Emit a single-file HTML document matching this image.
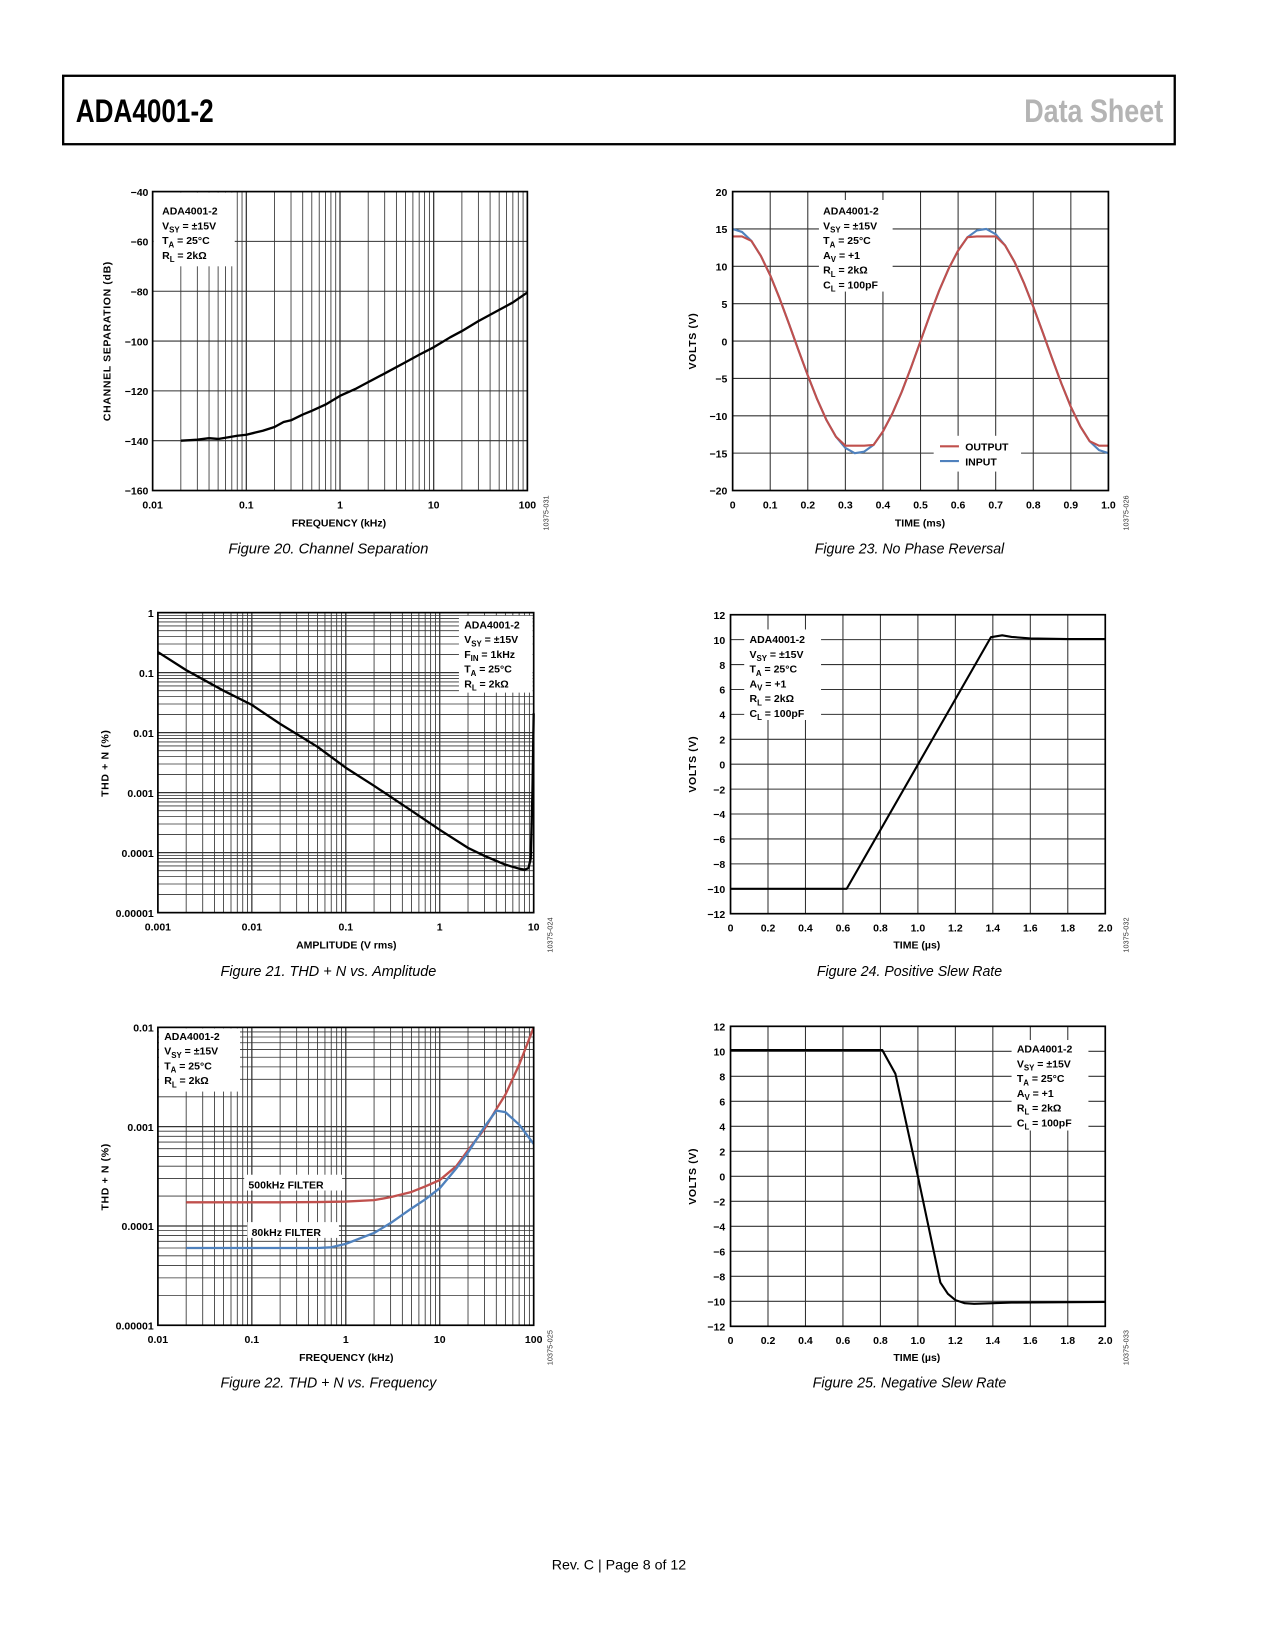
<!DOCTYPE html>
<html><head><meta charset="utf-8"><style>
html,body{margin:0;padding:0;background:#fff}
svg{display:block}
text{font-family:"Liberation Sans",sans-serif}
</style></head><body>
<svg id="page" xmlns="http://www.w3.org/2000/svg" width="1275" height="1650" viewBox="0 0 1211.25 1567.5" preserveAspectRatio="none">
<rect x="60" y="72" width="1056" height="65" fill="#fff" stroke="#000" stroke-width="2.2"/>
<text x="72" y="116" font-size="31" font-weight="bold" textLength="131" lengthAdjust="spacingAndGlyphs">ADA4001-2</text>
<text x="973" y="116" font-size="31" font-weight="bold" fill="#b4b4b4" textLength="132" lengthAdjust="spacingAndGlyphs">Data Sheet</text>
<text x="588" y="1491" font-size="13.5" text-anchor="middle">Rev. C | Page 8 of 12</text>
</svg>
<script>
// ---- Figure 20 data ----
const fig20Freq = [0.02,0.025,0.03,0.04,0.05,0.06,0.08,0.1,0.15,0.2,0.25,0.3,0.4,0.5,0.7,1,1.5,2,3,5,7,10,15,20,30,50,70,100];
const fig20Sep = [-140,-139.8,-139.6,-139,-139.3,-138.8,-138,-137.6,-136,-134.5,-132.5,-131.8,-129.5,-128,-125.5,-122,-119,-116.5,-113,-108.5,-105.5,-102.5,-98.5,-96,-92,-87.5,-84.5,-80.5];
const fig20YTicks = [-40,-60,-80,-100,-120,-140,-160];
const fig20XTicks = ["0.01","0.1","1","10","100"];
// ---- Figure 23 data ----
const fig23Time = [0,0.025,0.05,0.075,0.1,0.125,0.15,0.175,0.2,0.225,0.25,0.275,0.3,0.325,0.35,0.375,0.4,0.425,0.45,0.475,0.5,0.525,0.55,0.575,0.6,0.625,0.65,0.675,0.7,0.725,0.75,0.775,0.8,0.825,0.85,0.875,0.9,0.925,0.95,0.975,1.0];
const fig23Input = [15,14.6,13.4,11.4,8.8,5.7,2.3,-1.2,-4.6,-7.8,-10.6,-12.8,-14.3,-15,-14.8,-13.9,-12.1,-9.7,-6.8,-3.5,0,3.5,6.8,9.7,12.1,13.9,14.8,15,14.3,12.8,10.6,7.8,4.6,1.2,-2.3,-5.7,-8.8,-11.4,-13.4,-14.6,-15];
const fig23Output = [14,14,13.4,11.4,8.8,5.7,2.3,-1.2,-4.6,-7.8,-10.6,-12.8,-14,-14,-14,-13.9,-12.1,-9.7,-6.8,-3.5,0,3.5,6.8,9.7,12.1,13.9,14,14,14,12.8,10.6,7.8,4.6,1.2,-2.3,-5.7,-8.8,-11.4,-13.4,-14,-14];
const fig23YTicks = [20,15,10,5,0,-5,-10,-15,-20];
const fig23XTicks = ["0","0.1","0.2","0.3","0.4","0.5","0.6","0.7","0.8","0.9","1.0"];
// ---- Figure 21 data ----
const fig21Amp = [0.001,0.002,0.005,0.01,0.02,0.05,0.1,0.2,0.5,1,2,3,5,7,8,8.8,9.3,9.7,10];
const fig21Thd = [0.22,0.11,0.05,0.029,0.014,0.0058,0.0026,0.0013,0.0005,0.00024,0.00012,0.000088,0.000063,0.000054,0.000052,0.000055,0.00008,0.001,0.021];
const fig21YTicks = ["1","0.1","0.01","0.001","0.0001","0.00001"];
const fig21XTicks = ["0.001","0.01","0.1","1","10"];
// ---- Figure 24 data ----
const fig24Time = [0,0.62,1.39,1.45,1.5,1.6,1.8,2.0];
const fig24Volts = [-10,-10,10.2,10.35,10.22,10.1,10.05,10.05];
const slewYTicks = [12,10,8,6,4,2,0,-2,-4,-6,-8,-10,-12];
const slewXTicks = ["0","0.2","0.4","0.6","0.8","1.0","1.2","1.4","1.6","1.8","2.0"];
// ---- Figure 22 data ----
const fig22Freq = [0.02,0.03,0.05,0.1,0.2,0.5,0.7,1,2,3,5,7,10,15,20,30,40,50,70,100];
const fig22Red = [1.73e-4,1.73e-4,1.73e-4,1.73e-4,1.73e-4,1.74e-4,1.75e-4,1.76e-4,1.82e-4,1.95e-4,2.2e-4,2.5e-4,2.9e-4,4e-4,5.8e-4,9.5e-4,1.5e-3,2.1e-3,4.2e-3,1e-2];
const fig22Blue = [6e-5,6e-5,6e-5,6e-5,6e-5,6e-5,6.1e-5,6.6e-5,8.5e-5,1.07e-4,1.5e-4,1.85e-4,2.4e-4,3.8e-4,5.5e-4,1e-3,1.45e-3,1.4e-3,1.05e-3,6.7e-4];
const fig22YTicks = ["0.01","0.001","0.0001","0.00001"];
const fig22XTicks = ["0.01","0.1","1","10","100"];
// ---- Figure 25 data ----
const fig25Time = [0,0.81,0.88,1.0,1.12,1.16,1.2,1.25,1.3,1.5,2.0];
const fig25Volts = [10.1,10.1,8.2,0,-8.5,-9.4,-9.9,-10.15,-10.2,-10.1,-10.05];

const NS = "http://www.w3.org/2000/svg";
const svg = document.getElementById('page');
function mk(tag, name, attrs, parent) {
  const e = document.createElementNS(NS, tag);
  
  
  for (const k in attrs) e.setAttribute(k, attrs[k]);
  (parent || svg).appendChild(e);
  return e;
}
function linS(a, b, p0, p1) { return v => p0 + (v - a) / (b - a) * (p1 - p0); }
function logS(a, b, p0, p1) { return v => p0 + (Math.log10(v) - Math.log10(a)) / (Math.log10(b) - Math.log10(a)) * (p1 - p0); }
function line(g, name, x1, y1, x2, y2, w, c) { mk('line', name, {x1, y1, x2, y2, stroke: c || '#333', 'stroke-width': w || 0.8}, g); }
function txt(g, name, x, y, s, opts) {
  const t = mk('text', name, Object.assign({x, y, 'font-size': 10, 'font-weight': 'bold'}, opts || {}), g);
  t.textContent = s; return t;
}
function poly(g, name, xs, ys, X, Y, color, w) {
  const pts = xs.map((v, i) => X(v).toFixed(2) + ',' + Y(ys[i]).toFixed(2)).join(' ');
  mk('polyline', name, {points: pts, fill: 'none', stroke: color, 'stroke-width': w || 2, 'stroke-linejoin': 'round'}, g);
}
function legend(g, name, x, y, lines) {
  const lg = mk('g', name, {}, g);
  lines.forEach((ln, i) => {
    const t = mk('text', 'legend-line', {x, y: y + i * 14, 'font-size': 10, 'font-weight': 'bold'}, lg);
    ln.forEach(part => {
      const s = mk('tspan', 'legend-text', {}, t);
      if (part[1]) { s.setAttribute('font-size', 7.5); s.setAttribute('dy', 3); }
      if (part[2]) { s.setAttribute('dy', -3); }
      s.textContent = part[0];
    });
  });
}
function frame(g, x0, y0, x1, y1) {
  mk('rect', 'plot-frame', {x: x0, y: y0, width: x1 - x0, height: y1 - y0, fill: 'none', stroke: '#000', 'stroke-width': 1.6}, g);
}
function decoLogV(g, a, b, X, y0, y1) {
  for (let e = Math.log10(a); e < Math.log10(b); e++) for (let k = 1; k <= 9; k++) {
    const v = k * Math.pow(10, e);
    line(g, 'grid-vertical', X(v), y0, X(v), y1, k === 1 ? 1.2 : 0.8);
  }
}
function decoLogH(g, a, b, Y, x0, x1) {
  for (let e = Math.log10(a); e < Math.log10(b); e++) for (let k = 1; k <= 9; k++) {
    const v = k * Math.pow(10, e);
    line(g, 'grid-horizontal', x0, Y(v), x1, Y(v), k === 1 ? 1.2 : 0.8);
  }
}
function caption(x, y, s, w, name) {
  const t = mk('text', name, {x, y, 'font-size': 14, 'font-style': 'italic', 'text-anchor': 'middle', textLength: w, lengthAdjust: 'spacingAndGlyphs'});
  t.textContent = s;
}
function docId(x, y, s) {
  const t = mk('text', 'figure-id', {x, y, 'font-size': 7, transform: `rotate(-90 ${x} ${y})`, fill: '#333'});
  t.textContent = s;
}
function ytitle(g, x, y, s) {
  const t = mk('text', 'y-axis-title', {x, y, 'font-size': 10, 'font-weight': 'bold', 'text-anchor': 'middle', transform: `rotate(-90 ${x} ${y})`, 'letter-spacing': 0.6}, g);
  t.textContent = s;
}
function SUB(s){return [s,true];}
function UP(s){return [s,false,true];}

// ================= Figure 20 =================
(function(){
  const g = mk('g', 'chart-channel-separation', {});
  const x0=145,x1=501,y0=182,y1=466;
  const X = logS(0.01,100,x0,x1), Y = linS(-40,-160,y0,y1);
  decoLogV(g,0.01,100,X,y0,y1);
  fig20YTicks.forEach(v => { line(g,'grid-horizontal',x0,Y(v),x1,Y(v),1); txt(g,'y-tick-label',x0-4,Y(v)+4,String(v).replace('-','\u2212'),{'text-anchor':'end'}); });
  fig20XTicks.forEach(s => txt(g,'x-tick-label',X(+s),483,s,{'text-anchor':'middle'}));
  mk('rect','legend-background',{x:x0+1,y:y0+1,width:77,height:70,fill:'#fff'},g);
  legend(g,'legend',154,204,[[['ADA4001-2']],[['V'],SUB('SY'),UP(' = \u00b115V')],[['T'],SUB('A'),UP(' = 25\u00b0C')],[['R'],SUB('L'),UP(' = 2k\u03a9')]]);
  poly(g,'series-channel-separation',fig20Freq,fig20Sep,X,Y,'#000',2.2);
  frame(g,x0,y0,x1,y1);
  ytitle(g,105,324,'CHANNEL SEPARATION (dB)');
  txt(g,'x-axis-title',322,500,'FREQUENCY (kHz)',{'text-anchor':'middle'});
  docId(521,504,'10375-031');
})();
caption(312,526,'Figure 20. Channel Separation',190,'caption-figure-20');

// ================= Figure 23 =================
(function(){
  const g = mk('g', 'chart-no-phase-reversal', {});
  const x0=696,x1=1053,y0=182,y1=466;
  const X = linS(0,1,x0,x1), Y = linS(20,-20,y0,y1);
  fig23XTicks.forEach(s => { line(g,'grid-vertical',X(+s),y0,X(+s),y1,1); txt(g,'x-tick-label',X(+s),483,s,{'text-anchor':'middle'}); });
  fig23YTicks.forEach(v => { line(g,'grid-horizontal',x0,Y(v),x1,Y(v),1); txt(g,'y-tick-label',x0-5,Y(v)+4,String(v).replace('-','\u2212'),{'text-anchor':'end'}); });
  mk('rect','legend-background',{x:778,y:190,width:70,height:87,fill:'#fff'},g);
  legend(g,'legend',782,204,[[['ADA4001-2']],[['V'],SUB('SY'),UP(' = \u00b115V')],[['T'],SUB('A'),UP(' = 25\u00b0C')],[['A'],SUB('V'),UP(' = +1')],[['R'],SUB('L'),UP(' = 2k\u03a9')],[['C'],SUB('L'),UP(' = 100pF')]]);
  mk('rect','series-legend-background',{x:887,y:414,width:83,height:34,fill:'#fff'},g);
  line(g,'legend-swatch-output',893,424,911,424,2,'#c0504d');
  line(g,'legend-swatch-input',893,438,911,438,2,'#4f81bd');
  txt(g,'legend-label-output',917,428,'OUTPUT');
  txt(g,'legend-label-input',917,442,'INPUT');
  poly(g,'series-input',fig23Time,fig23Input,X,Y,'#4f81bd',2);
  poly(g,'series-output',fig23Time,fig23Output,X,Y,'#c0504d',2);
  frame(g,x0,y0,x1,y1);
  ytitle(g,661,324,'VOLTS (V)');
  txt(g,'x-axis-title',874,500,'TIME (ms)',{'text-anchor':'middle'});
  docId(1072,504,'10375-026');
})();
caption(864,526,'Figure 23. No Phase Reversal',180,'caption-figure-23');

// ================= Figure 21 =================
(function(){
  const g = mk('g', 'chart-thd-vs-amplitude', {});
  const x0=150,x1=507,y0=582,y1=867;
  const X = logS(0.001,10,x0,x1), Y = logS(1,0.00001,y0,y1);
  decoLogV(g,0.001,10,X,y0,y1);
  decoLogH(g,0.00001,1,Y,x0,x1);
  fig21YTicks.forEach(s => txt(g,'y-tick-label',x0-4,Y(+s)+4,s,{'text-anchor':'end'}));
  fig21XTicks.forEach(s => txt(g,'x-tick-label',X(+s),884,s,{'text-anchor':'middle'}));
  mk('rect','legend-background',{x:436,y:585,width:70,height:73,fill:'#fff'},g);
  legend(g,'legend',441,597,[[['ADA4001-2']],[['V'],SUB('SY'),UP(' = \u00b115V')],[['F'],SUB('IN'),UP(' = 1kHz')],[['T'],SUB('A'),UP(' = 25\u00b0C')],[['R'],SUB('L'),UP(' = 2k\u03a9')]]);
  poly(g,'series-thd',fig21Amp,fig21Thd,X,Y,'#000',2.2);
  frame(g,x0,y0,x1,y1);
  ytitle(g,103,725,'THD + N (%)');
  txt(g,'x-axis-title',329,901,'AMPLITUDE (V rms)',{'text-anchor':'middle'});
  docId(525,905,'10375-024');
})();
caption(312,927,'Figure 21. THD + N vs. Amplitude',205,'caption-figure-21');

// ================= Figure 24 =================
function slewChart(name, x0,y0,x1,y1, tArr, vArr, legX, legY, boxX, boxY, id, titleY, idY) {
  const g = mk('g', name, {});
  const X = linS(0,2,x0,x1), Y = linS(12,-12,y0,y1);
  slewXTicks.forEach(s => { line(g,'grid-vertical',X(+s),y0,X(+s),y1,1); txt(g,'x-tick-label',X(+s),y1+17,s,{'text-anchor':'middle'}); });
  slewYTicks.forEach(v => { line(g,'grid-horizontal',x0,Y(v),x1,Y(v),1); txt(g,'y-tick-label',x0-5,Y(v)+4,String(v).replace('-','\u2212'),{'text-anchor':'end'}); });
  mk('rect','legend-background',{x:boxX,y:boxY,width:73,height:86,fill:'#fff'},g);
  legend(g,'legend',legX,legY,[[['ADA4001-2']],[['V'],SUB('SY'),UP(' = \u00b115V')],[['T'],SUB('A'),UP(' = 25\u00b0C')],[['A'],SUB('V'),UP(' = +1')],[['R'],SUB('L'),UP(' = 2k\u03a9')],[['C'],SUB('L'),UP(' = 100pF')]]);
  poly(g,'series-output-voltage',tArr,vArr,X,Y,'#000',2);
  frame(g,x0,y0,x1,y1);
  ytitle(g,661,(y0+y1)/2,'VOLTS (V)');
  txt(g,'x-axis-title',871,titleY,'TIME (\u00b5s)',{'text-anchor':'middle'});
  docId(1072,idY,id);
}
slewChart('chart-positive-slew-rate',694,584,1050,868,fig24Time,fig24Volts,712,611,707,598,'10375-032',901,905);
caption(864,927,'Figure 24. Positive Slew Rate',176,'caption-figure-24');

// ================= Figure 22 =================
(function(){
  const g = mk('g', 'chart-thd-vs-frequency', {});
  const x0=150,x1=507,y0=976,y1=1259;
  const X = logS(0.01,100,x0,x1), Y = logS(0.01,0.00001,y0,y1);
  decoLogV(g,0.01,100,X,y0,y1);
  decoLogH(g,0.00001,0.01,Y,x0,x1);
  fig22YTicks.forEach(s => txt(g,'y-tick-label',x0-4,Y(+s)+4,s,{'text-anchor':'end'}));
  fig22XTicks.forEach(s => txt(g,'x-tick-label',X(+s),1276,s,{'text-anchor':'middle'}));
  mk('rect','legend-background',{x:x0+1,y:y0+1,width:77,height:60,fill:'#fff'},g);
  legend(g,'legend',156,988,[[['ADA4001-2']],[['V'],SUB('SY'),UP(' = \u00b115V')],[['T'],SUB('A'),UP(' = 25\u00b0C')],[['R'],SUB('L'),UP(' = 2k\u03a9')]]);
  mk('rect','label-background-500k',{x:232,y:1116,width:93,height:15,fill:'#fff'},g);
  txt(g,'series-label-500khz-filter',236,1129,'500kHz FILTER');
  mk('rect','label-background-80k',{x:235,y:1161,width:87,height:15,fill:'#fff'},g);
  txt(g,'series-label-80khz-filter',239,1174,'80kHz FILTER');
  poly(g,'series-500khz-filter',fig22Freq,fig22Red,X,Y,'#c0504d',2.2);
  poly(g,'series-80khz-filter',fig22Freq,fig22Blue,X,Y,'#4f81bd',2.2);
  frame(g,x0,y0,x1,y1);
  ytitle(g,103,1118,'THD + N (%)');
  txt(g,'x-axis-title',329,1293,'FREQUENCY (kHz)',{'text-anchor':'middle'});
  docId(525,1297,'10375-025');
})();
caption(312,1318,'Figure 22. THD + N vs. Frequency',205,'caption-figure-22');

// ================= Figure 25 =================
slewChart('chart-negative-slew-rate',694,975,1050,1260,fig25Time,fig25Volts,966,1000,961,988,'10375-033',1293,1297);
caption(864,1318,'Figure 25. Negative Slew Rate',184,'caption-figure-25');
</script>
</body></html>
